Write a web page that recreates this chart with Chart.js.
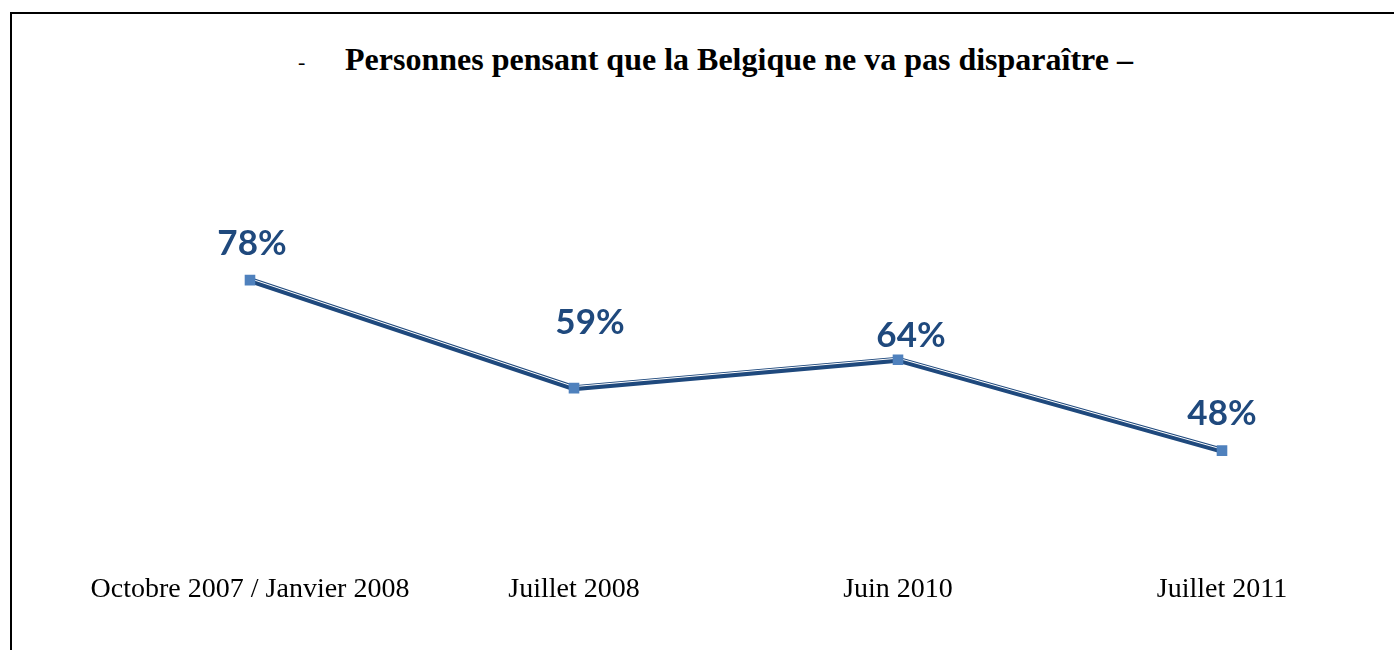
<!DOCTYPE html>
<html>
<head>
<meta charset="utf-8">
<script src="https://cdn.jsdelivr.net/npm/chart.js@4"></script>
<style>
  body { margin: 0; background: #fff; }
  #wrap { position: relative; width: 1394px; height: 650px; overflow: hidden; }
  #frame { position: absolute; left: 10px; top: 12px; right: 0; bottom: -10px;
           border-top: 2px solid #000; border-left: 2px solid #000; }
  #dash { position: absolute; left: 298px; top: 49px; font: 22px "Liberation Serif", serif; }
  #title { position: absolute; left: 345px; top: 41px; font: bold 32px "Liberation Serif", serif; color: #000; white-space: nowrap; }
  canvas { position: absolute; left: 0; top: 0; }
</style>
</head>
<body>
<div id="wrap">
  <div id="frame"></div>
  <span id="dash">-</span>
  <span id="title">Personnes pensant que la Belgique ne va pas disparaître –</span>
  <canvas id="chart" width="1394" height="650"></canvas>
</div>
<script>
// Data
const periods = ['Octobre 2007 / Janvier 2008', 'Juillet 2008', 'Juin 2010', 'Juillet 2011'];
const shares = [78, 59, 64, 48];

const darkBlue = '#1F497D';
const markerBlue = '#4F81BD';

// where each % label sits relative to its point
const labelOffsets = [[2, -36], [16, -65], [13, -24], [0, -37]];

// thin white highlight line, drawn slightly above the dark line
const highlightShift = {
  id: 'highlightShift',
  beforeDatasetDraw(chart, args) {
    if (args.index === 1) {
      chart.ctx.save();
      chart.ctx.translate(0, -1.5);
    }
  },
  afterDatasetDraw(chart, args) {
    if (args.index === 1) chart.ctx.restore();
  }
};

const valueLabels = {
  id: 'valueLabels',
  afterDatasetsDraw(chart) {
    const ctx = chart.ctx;
    const meta = chart.getDatasetMeta(2);
    ctx.save();
    ctx.font = 'bold 35px Lato, sans-serif';
    ctx.fillStyle = darkBlue;
    ctx.textAlign = 'center';
    ctx.textBaseline = 'middle';
    meta.data.forEach((pt, i) => {
      const off = labelOffsets[i];
      ctx.fillText(shares[i] + '%', pt.x + off[0], pt.y + off[1]);
    });
    ctx.restore();
  }
};

new Chart(document.getElementById('chart'), {
  type: 'line',
  data: {
    labels: periods,
    datasets: [
      {
        data: shares,
        borderColor: darkBlue,
        borderWidth: 6,
        pointRadius: 0,
        tension: 0,
        order: 3
      },
      {
        data: shares,
        borderColor: '#ffffff',
        borderWidth: 1,
        pointRadius: 0,
        tension: 0,
        order: 2
      },
      {
        data: shares,
        showLine: false,
        pointStyle: 'rect',
        pointRadius: 7.5,
        pointBackgroundColor: markerBlue,
        pointBorderColor: markerBlue,
        pointBorderWidth: 0,
        order: 1
      }
    ]
  },
  options: {
    responsive: false,
    animation: false,
    layout: { padding: { left: 88, right: 10, top: 155, bottom: 27 } },
    plugins: {
      legend: { display: false },
      tooltip: { enabled: false }
    },
    scales: {
      y: { display: false, min: 30, max: 100 },
      x: {
        offset: true,
        grid: { display: false },
        border: { display: false },
        afterFit(scale) { scale.height = 70; },
        ticks: {
          color: '#000',
          padding: 12,
          maxRotation: 0,
          autoSkip: false,
          font: { family: '"Liberation Serif", serif', size: 28 }
        }
      }
    }
  },
  plugins: [highlightShift, valueLabels]
});
</script>
</body>
</html>
